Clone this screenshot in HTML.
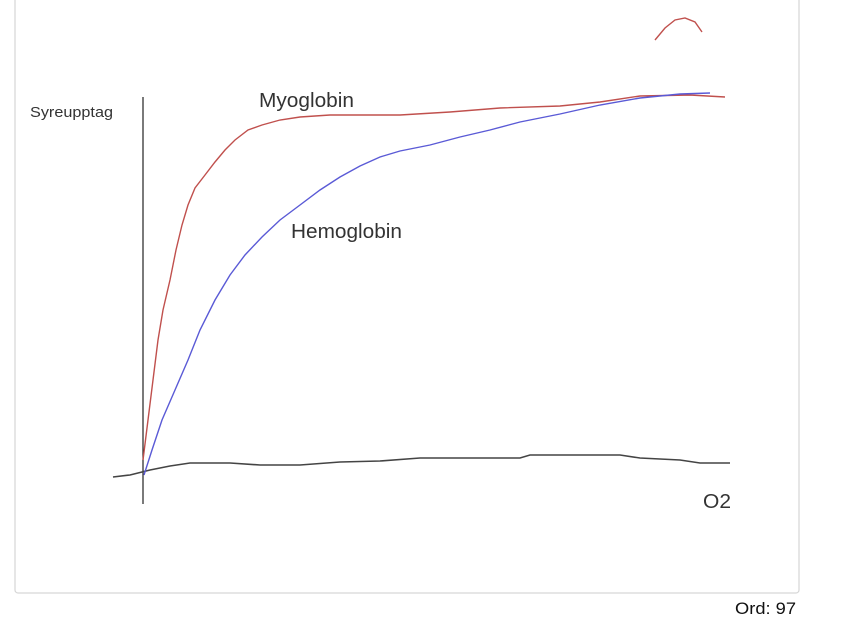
<!DOCTYPE html>
<html><head><style>
html,body{margin:0;padding:0;background:#fff;width:846px;height:622px;overflow:hidden}
</style></head><body>
<svg width="846" height="622" viewBox="0 0 846 622" xmlns="http://www.w3.org/2000/svg" font-family="Liberation Sans, sans-serif">
<rect x="15" y="-10" width="784" height="603" rx="3" fill="#fff" stroke="#d6d6d6" stroke-width="1.2"/>
<text x="30" y="117" font-size="15" fill="#333" textLength="83" lengthAdjust="spacingAndGlyphs">Syreupptag</text>
<text x="259" y="107" font-size="20" fill="#333" textLength="95" lengthAdjust="spacingAndGlyphs">Myoglobin</text>
<text x="291" y="238" font-size="20" fill="#333" textLength="111" lengthAdjust="spacingAndGlyphs">Hemoglobin</text>
<text x="703" y="508" font-size="20" fill="#333" textLength="28" lengthAdjust="spacingAndGlyphs">O2</text>
<text x="735" y="614" font-size="17" fill="#111" textLength="61" lengthAdjust="spacingAndGlyphs">Ord: 97</text>
<line x1="143" y1="97" x2="143" y2="504" stroke="#222" stroke-width="1.2"/>
<path d="M113 477 L130 475 L150 470 L170 466 L190 463 L230 463 L260 465 L300 465 L340 462 L380 461 L420 458 L470 458 L520 458 L530 455 L620 455 L640 458 L680 460 L700 463 L730 463" fill="none" stroke="#444" stroke-width="1.6"/>
<path d="M143 460 L148 420 L153 380 L158 340 L163 310 L170 280 L176 250 L182 225 L188 205 L195 188 L205 175 L215 162 L225 150 L235 140 L248 130 L262 125 L280 120 L300 117 L330 115 L400 115 L450 112 L500 108 L560 106 L600 102 L640 96 L690 95 L725 97" fill="none" stroke="#c0504d" stroke-width="1.4"/>
<path d="M144 475 L152 450 L162 420 L175 390 L188 360 L200 330 L215 300 L230 275 L245 255 L262 237 L280 220 L300 205 L320 190 L340 177 L360 166 L380 157 L400 151 L430 145 L460 137 L490 130 L520 122 L560 114 L600 105 L640 98 L680 94 L710 93" fill="none" stroke="#5a5ad6" stroke-width="1.4"/>
<path d="M655 40 L665 28 L675 20 L685 18 L695 22 L702 32" fill="none" stroke="#c0504d" stroke-width="1.4"/>
</svg>
</body></html>
